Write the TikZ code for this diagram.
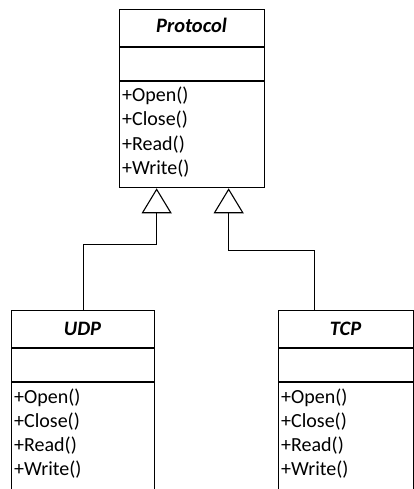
\documentclass[tikz,border=0pt]{standalone}
\usepackage{fontspec}
\setmainfont{Carlito}
\usetikzlibrary{arrows.meta,calc}
\tikzset{
  classbox/.style={draw=black, line width=1.3pt, anchor=north west, inner sep=0pt},
  divider/.style={draw=black, line width=1.3pt},
  ttl/.style={font=\fontsize{20.5}{22}\selectfont\bfseries\itshape, anchor=base, inner sep=0pt},
  member/.style={font=\fontsize{20}{22}\selectfont, anchor=base west, inner sep=0pt},
  inherit/.style={draw=black, line width=0.9pt, -{Triangle[open, length=25pt, width=30pt, line width=1.1pt]}},
}
\begin{document}
\begin{tikzpicture}[x=1pt,y=1pt]
\clip (0,0) rectangle (414,-489);
\fill[white] (0,0) rectangle (414,-489);
% Protocol
\node[classbox, minimum width=145pt, minimum height=178pt] (P) at (119,-9) {};
\draw[divider] (119,-47) -- (264,-47);
\draw[divider] (119,-81) -- (264,-81);
\node[ttl] (Pt) at (191.5,-33) {Protocol};
\node[member] (P1) at (122,-102) {+Open()};
\node[member] (P2) at (122,-126) {+Close()};
\node[member] (P3) at (122,-150) {+Read()};
\node[member] (P4) at (122,-174) {+Write()};
% UDP
\node[classbox, minimum width=143pt, minimum height=200pt] (U) at (11,-310) {};
\draw[divider] (11,-348) -- (154,-348);
\draw[divider] (11,-382) -- (154,-382);
\node[ttl] (Ut) at (82.5,-335) {UDP};
\node[member] (U1) at (14,-403) {+Open()};
\node[member] (U2) at (14,-427) {+Close()};
\node[member] (U3) at (14,-451) {+Read()};
\node[member] (U4) at (14,-475) {+Write()};
% TCP
\node[classbox, minimum width=135pt, minimum height=200pt] (T) at (278,-310) {};
\draw[divider] (278,-348) -- (413,-348);
\draw[divider] (278,-382) -- (413,-382);
\node[ttl] (Tt) at (345.5,-335) {TCP};
\node[member] (T1) at (281,-403) {+Open()};
\node[member] (T2) at (281,-427) {+Close()};
\node[member] (T3) at (281,-451) {+Read()};
\node[member] (T4) at (281,-475) {+Write()};
% connectors
\coordinate (Pa) at ($(P.south)+(-35.5,0)$);
\coordinate (Pb) at ($(P.south)+(36.5,0)$);
\coordinate (Tn) at ($(T.north west)+(36,0)$);
\draw[inherit] (U.north) -- ++(0,66) -| (Pa);
\draw[inherit] (Tn) -- ++(0,60) -| (Pb);
\end{tikzpicture}
\end{document}
